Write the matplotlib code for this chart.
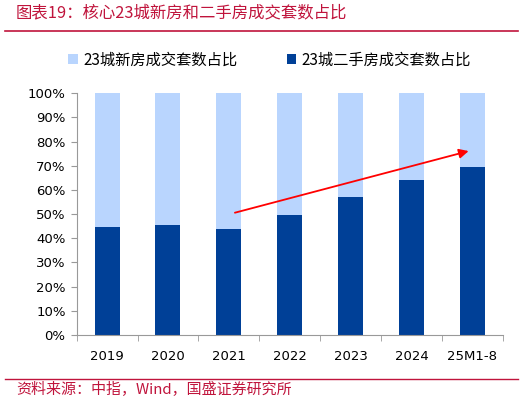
import numpy as np
import matplotlib
matplotlib.use('Agg')
import matplotlib.pyplot as plt
from matplotlib.ticker import PercentFormatter

plt.rcParams['font.family'] = ['Noto Sans CJK SC', 'DejaVu Sans']

# 数据
categories = ['2019', '2020', '2021', '2022', '2023', '2024', '25M1-8']
second_hand = [0.446, 0.454, 0.438, 0.496, 0.570, 0.640, 0.694]
new_home = [1 - v for v in second_hand]

light = '#B9D5FE'
dark = '#004097'
red_txt = '#C0143C'

fig = plt.figure(figsize=(5.31, 4.03), dpi=100)
ax = fig.add_axes([0.1444, 0.1687, 0.8023, 0.5998])

x = np.arange(len(categories))
ax.bar(x, second_hand, width=0.41, color=dark, label='23城二手房成交套数占比', zorder=2)
ax.bar(x, new_home, width=0.41, bottom=second_hand, color=light, label='23城新房成交套数占比', zorder=2)

ax.set_xlim(-0.5, len(categories) - 0.5)
ax.set_ylim(0, 1)
ax.set_yticks(np.arange(0, 1.01, 0.1))
ax.yaxis.set_major_formatter(PercentFormatter(1.0, decimals=0))
ax.set_xticks(x)
ax.set_xticklabels(categories, fontname='DejaVu Sans')
ax.set_xticks(np.arange(-0.5, len(categories), 1), minor=True)
ax.tick_params(axis='x', which='major', length=0, pad=11, labelsize=9.5)
ax.tick_params(axis='x', which='minor', length=4, color='#999999', direction='out')
ax.tick_params(axis='y', length=4, color='#999999', labelsize=9.5, pad=4)
for lbl in ax.get_yticklabels():
    lbl.set_fontname('DejaVu Sans')

for s in ['top', 'right']:
    ax.spines[s].set_visible(False)
ax.spines['left'].set_color('#999999')
ax.spines['bottom'].set_color('#999999')

# 趋势箭头
ax.annotate('', xy=(5.94, 0.761), xytext=(2.1, 0.506),
            arrowprops=dict(arrowstyle='-|>', color='#FF0000', lw=1.3,
                            mutation_scale=14, shrinkA=0, shrinkB=0), zorder=5)

# 图例
h, l = ax.get_legend_handles_labels()
fig.legend(h[::-1], l[::-1], loc='center', bbox_to_anchor=(0.508, 0.851), ncol=2,
           frameon=False, fontsize=11, handlelength=0.65, handleheight=0.65,
           handletextpad=0.35, columnspacing=3.2)

# 标题与来源
fig.text(0.030, 0.967, '图表19：核心23城新房和二手房成交套数占比', color=red_txt,
         fontsize=11.8, ha='left', va='center', style='italic')
fig.add_artist(plt.Line2D([0.009, 0.975], [0.922, 0.922], color='#C0143C', lw=1.2))
fig.add_artist(plt.Line2D([0.009, 0.975], [0.059, 0.059], color='#C0143C', lw=1.0))
fig.text(0.030, 0.033, '资料来源：中指，Wind，国盛证券研究所', color=red_txt,
         fontsize=10.8, ha='left', va='center', style='italic')

fig.savefig('out.png', dpi=100)
